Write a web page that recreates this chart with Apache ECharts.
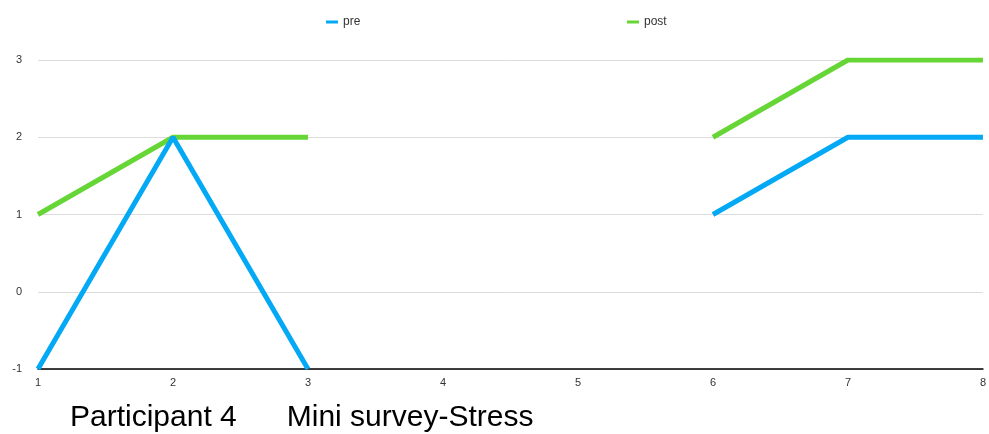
<!DOCTYPE html>
<html>
<head>
<meta charset="utf-8">
<script src="https://cdn.jsdelivr.net/npm/echarts@6/dist/echarts.min.js"></script>
<style>
  html, body { margin: 0; padding: 0; background: #fff; }
  #chart { width: 989px; height: 434px; }
</style>
</head>
<body>
<div id="chart"></div>
<script>
// Session numbers along the x axis
const sessions = ['1', '2', '3', '4', '5', '6', '7', '8'];
// Stress ratings before and after each session (null = no session data)
const preValues = [-1, 2, -1, null, null, 1, 2, 2];
const postValues = [1, 2, 2, null, null, 2, 3, 3];
// Y axis range
const yMin = -1;
const yMax = 3;

const font = 'Liberation Sans, Arial, sans-serif';

const chart = echarts.init(document.getElementById('chart'));
chart.setOption({
  animation: false,
  title: {
    text: 'Participant 4      Mini survey-Stress',
    left: 65,
    top: 398,
    textStyle: {
      fontFamily: font,
      fontSize: 30,
      fontWeight: 'normal',
      color: '#000'
    }
  },
  legend: [
    {
      data: ['pre'],
      left: 321,
      top: 11,
      icon: 'rect',
      itemWidth: 12,
      itemHeight: 3,
      itemGap: 6,
      textStyle: { fontFamily: font, fontSize: 12, color: '#333' }
    },
    {
      data: ['post'],
      left: 622,
      top: 11,
      icon: 'rect',
      itemWidth: 12,
      itemHeight: 3,
      itemGap: 6,
      textStyle: { fontFamily: font, fontSize: 12, color: '#333' }
    }
  ],
  grid: { left: 38, right: 4, top: 60, bottom: 65, containLabel: false },
  xAxis: {
    type: 'category',
    data: sessions,
    boundaryGap: false,
    axisLine: { onZero: false, lineStyle: { color: '#000', width: 1.5 } },
    axisTick: { show: false },
    axisLabel: {
      color: '#333',
      fontFamily: font,
      fontSize: 11,
      margin: 8
    },
    splitLine: { show: false }
  },
  yAxis: {
    type: 'value',
    min: yMin,
    max: yMax,
    interval: 1,
    axisLine: { show: false },
    axisTick: { show: false },
    axisLabel: {
      color: '#333',
      fontFamily: font,
      fontSize: 11,
      margin: 16
    },
    splitLine: { lineStyle: { color: '#dcdcdc', width: 1 } }
  },
  series: [
    {
      name: 'pre',
      type: 'line',
      data: preValues,
      connectNulls: false,
      symbol: 'none',
      color: '#03a9f4',
      lineStyle: { width: 5, color: '#03a9f4' },
      z: 3
    },
    {
      name: 'post',
      type: 'line',
      data: postValues,
      connectNulls: false,
      symbol: 'none',
      color: '#66d636',
      lineStyle: { width: 5, color: '#66d636' },
      z: 2
    }
  ]
});
</script>
</body>
</html>
